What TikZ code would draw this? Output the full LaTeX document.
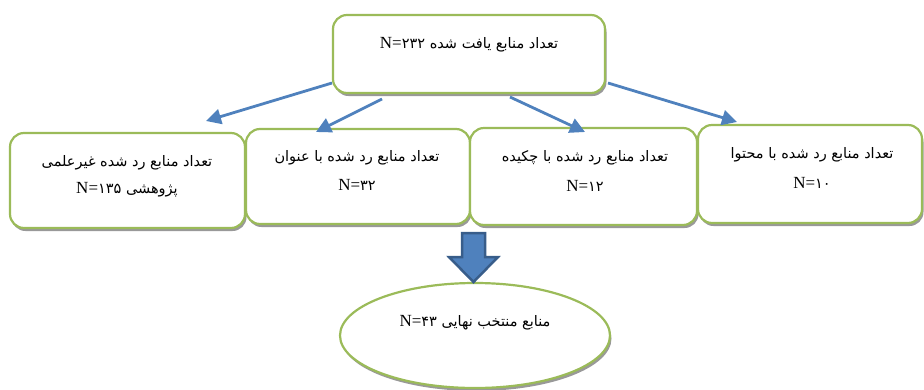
\documentclass[tikz,border=0pt]{standalone}
\usepackage{fontspec}
\setmainfont{Liberation Serif}
\newfontfamily\arabicfont[Script=Arabic]{DejaVu Sans}
\TeXXeTstate=1
\usetikzlibrary{arrows.meta,shadows,shapes.geometric}
\definecolor{boxgreen}{HTML}{9BBB59}
\definecolor{arrblue}{HTML}{4F81BD}
\definecolor{darkblue}{HTML}{385D8A}
\newcommand{\nlab}{{\rmfamily\fontsize{17}{17}\selectfont N=}}
\tikzset{
  boxnode/.style={draw=boxgreen, line width=2.2pt, fill=white, rounded corners=14pt,
    drop shadow={shadow xshift=1.5pt, shadow yshift=-3pt, fill=black!40, opacity=1}},
  ellnode/.style={draw=boxgreen, line width=2.2pt, fill=white, ellipse,
    drop shadow={shadow xshift=1.5pt, shadow yshift=-3pt, fill=black!40, opacity=1}},
  txt/.style={font=\arabicfont\fontsize{14.5}{17}\selectfont, align=center, inner sep=0pt},
  conn/.style={draw=arrblue, line width=2.8pt, -{Triangle[length=15pt,width=15pt]}},
}
\begin{document}
\begin{tikzpicture}[x=1pt,y=-1pt]
\useasboundingbox (0,0) rectangle (924,389);
% boxes
\node[boxnode, minimum width=272pt, minimum height=78pt] (top) at (469,54) {};
\node[boxnode, minimum width=235pt, minimum height=95pt] (b1) at (127.5,180.5) {};
\node[boxnode, minimum width=224pt, minimum height=95pt] (b2) at (358,176.5) {};
\node[boxnode, minimum width=227pt, minimum height=97pt] (b3) at (583.5,176.5) {};
\node[boxnode, minimum width=224pt, minimum height=98pt] (b4) at (810,174) {};
\node[ellnode, minimum width=270pt, minimum height=105pt] (fin) at (475,335.5) {};
% texts
\node[txt] (ttop) at (469,45) {\beginR تعداد منابع یافت شده \beginL\nlab ۲۳۲\endL\endR};
\node[txt] (t1a) at (127,163) {\beginR تعداد منابع رد شده غیرعلمی\endR};
\node[txt] (t1b) at (127,190) {\beginR پژوهشی \beginL\nlab ۱۳۵\endL\endR};
\node[txt] (t2a) at (357,158) {\beginR تعداد منابع رد شده با عنوان\endR};
\node[txt] (t2b) at (357,185) {\nlab ۳۲};
\node[txt] (t3a) at (585,158) {\beginR تعداد منابع رد شده با چکیده\endR};
\node[txt] (t3b) at (585,186) {\nlab ۱۲};
\node[txt] (t4a) at (812,155) {\beginR تعداد منابع رد شده با محتوا\endR};
\node[txt] (t4b) at (812,183) {\nlab ۱۰};
\node[txt] (tfin) at (475,323) {\beginR منابع منتخب نهایی \beginL\nlab ۴۳\endL\endR};
% connectors
\coordinate (s1) at (332,83);
\coordinate (e1) at (206,121);
\coordinate (s2) at (382,99);
\coordinate (e2) at (316,132);
\coordinate (s3) at (510,97);
\coordinate (e3) at (585,132);
\coordinate (s4) at (608,83);
\coordinate (e4) at (737,122);
\draw[conn] (s1) -- (e1);
\draw[conn] (s2) -- (e2);
\draw[conn] (s3) -- (e3);
\draw[conn] (s4) -- (e4);
% block arrow
\draw[fill=arrblue, draw=darkblue, line width=2.5pt, line join=miter]
  (462,233) -- (485,233) -- (485,257) -- (498,257) -- (473.5,282) -- (449,257) -- (462,257) -- cycle;
\end{tikzpicture}
\end{document}
